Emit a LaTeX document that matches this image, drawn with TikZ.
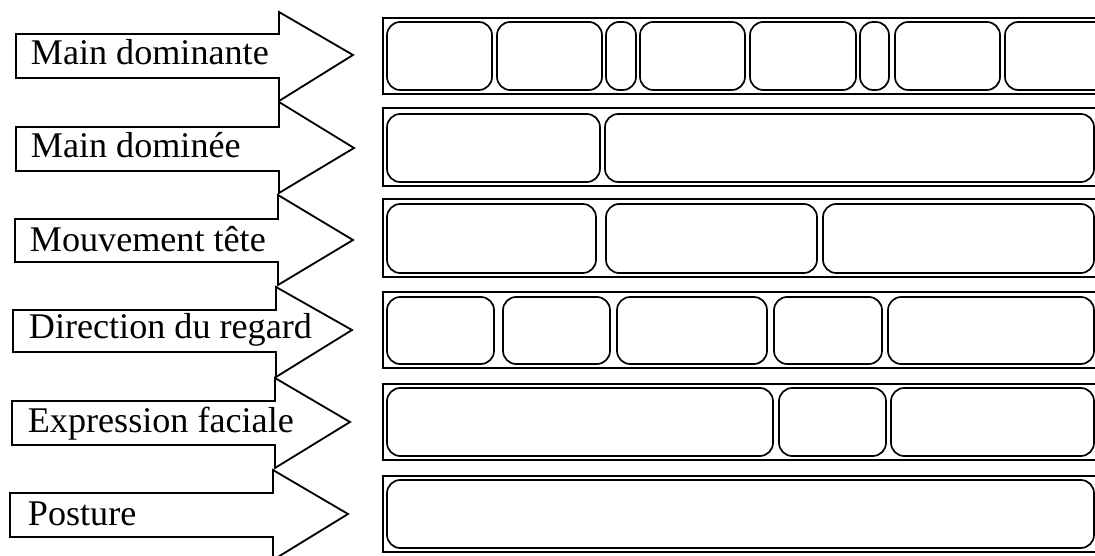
\documentclass[tikz,border=0pt]{standalone}
\usepackage{fontspec}
\setmainfont{Liberation Serif}

\begin{document}
\begin{tikzpicture}[x=0.025cm,y=-0.025cm,line width=1.3pt,
    rowtext/.style={anchor=base west,inner sep=0pt,font=\fontsize{25.7}{30}\selectfont},
    tier/.style={line width=1.4pt},
    slot/.style={line width=1.2pt,rounded corners=0.33cm}]
    \useasboundingbox (0,0) rectangle (1095,556);
    % arrows with the channel names
    \draw (16,34) -- (279,34) -- (279,12) -- (353,55) -- (279,101) -- (279,78) -- (16,78) -- cycle;
    \draw (16,127) -- (279,127) -- (279,102) -- (354,148) -- (279,193) -- (279,171) -- (16,171) -- cycle;
    \draw (15,219) -- (278,219) -- (278,195) -- (353,240) -- (278,285) -- (278,262) -- (15,262) -- cycle;
    \draw (13,310) -- (276,310) -- (276,287) -- (352,330) -- (276,377) -- (276,352) -- (13,352) -- cycle;
    \draw (12,401) -- (275,401) -- (275,378) -- (350,422) -- (275,468) -- (275,445) -- (12,445) -- cycle;
    \draw (10,493) -- (273,493) -- (273,470) -- (348,514) -- (273,560) -- (273,537) -- (10,537) -- cycle;
    \node[rowtext] (domhand) at (30,65) {Main dominante};
    \node[rowtext] (weakhand) at (30,158) {Main dominée};
    \node[rowtext] (head) at (29,252) {Mouvement tête};
    \node[rowtext] (gaze) at (28,338) {Direction du regard};
    \node[rowtext] (face) at (27,432) {Expression faciale};
    \node[rowtext] (posture) at (27,525) {Posture};
    % tiers
    \draw[tier] (383,18) rectangle (1110,94);
    \draw[tier] (383,108) rectangle (1110,186);
    \draw[tier] (383,199) rectangle (1110,277);
    \draw[tier] (383,292) rectangle (1110,368);
    \draw[tier] (383,384) rectangle (1110,460);
    \draw[tier] (383,476) rectangle (1110,552);
    % segments
    \draw[slot] (387,22) rectangle (492,90);
    \draw[slot] (497,22) rectangle (602,90);
    \draw[slot] (606,22) rectangle (636,90);
    \draw[slot] (640,22) rectangle (745,90);
    \draw[slot] (750,22) rectangle (856,90);
    \draw[slot] (860,22) rectangle (889,90);
    \draw[slot] (895,22) rectangle (1000,90);
    \draw[slot] (1005,22) rectangle (1110,90);
    \draw[slot] (387,114) rectangle (600,182);
    \draw[slot] (605,114) rectangle (1094,182);
    \draw[slot] (387,204) rectangle (596,273);
    \draw[slot] (606,204) rectangle (817,273);
    \draw[slot] (823,204) rectangle (1094,273);
    \draw[slot] (387,297) rectangle (494,364);
    \draw[slot] (503,297) rectangle (610,364);
    \draw[slot] (617,297) rectangle (767,364);
    \draw[slot] (774,297) rectangle (882,364);
    \draw[slot] (888,297) rectangle (1094,364);
    \draw[slot] (387,388) rectangle (773,456);
    \draw[slot] (779,388) rectangle (886,456);
    \draw[slot] (891,388) rectangle (1094,456);
    \draw[slot] (387,480) rectangle (1094,548);
\end{tikzpicture}
\end{document}
